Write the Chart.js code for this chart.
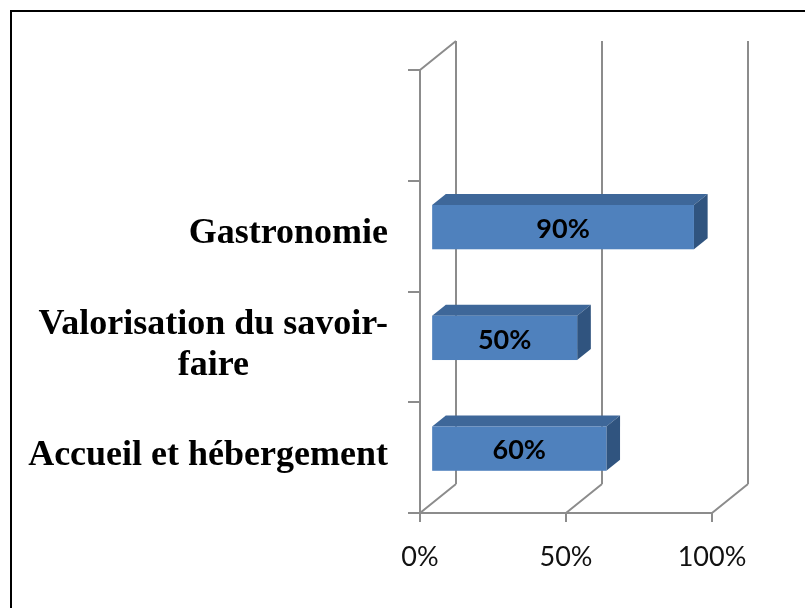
<!DOCTYPE html>
<html>
<head>
<meta charset="utf-8">
<script src="https://cdn.jsdelivr.net/npm/chart.js@4.4.0/dist/chart.umd.min.js"></script>
<style>
  html, body { margin: 0; padding: 0; background: #fff; }
  #wrap { position: relative; width: 805px; height: 608px; overflow: hidden; }
  #frame { position: absolute; left: 10px; top: 10px; width: 900px; height: 700px; border: 2px solid #000; }
  #box { position: absolute; left: 0; top: 0; width: 805px; height: 608px; }
</style>
</head>
<body>
<div id="wrap">
  <div id="frame"></div>
  <div id="box"><canvas id="chart"></canvas></div>
</div>
<script>
// data, bottom to top (the top slot is empty, like in the original)
const categories = [["Accueil et hébergement"], ["Valorisation du savoir-", "faire"], ["Gastronomie"], [""]];
const values = [0.6, 0.5, 0.9, null];
const valueLabels = ["60%", "50%", "90%", ""];
const xTicks = [0, 0.5, 1];
const xTickLabels = ["0%", "50%", "100%"];

const gridColor = "#8c8c8c";
const depth = { x: 36, y: -29 };      // full depth of the 3d box
const barFront = 0.31, barDepth = 0.38; // where the bar sits inside that depth

const walls3d = {
  id: "walls3d",
  beforeDatasetsDraw(chart) {
    const { ctx, chartArea: a, scales: { x } } = chart;
    ctx.save();
    ctx.strokeStyle = gridColor;
    ctx.lineWidth = 2;
    ctx.beginPath();
    xTicks.forEach(v => {
      const px = x.getPixelForValue(v);
      // back wall gridline
      ctx.moveTo(px + depth.x, a.top + depth.y);
      ctx.lineTo(px + depth.x, a.bottom + depth.y);
      // floor diagonal
      ctx.moveTo(px, a.bottom);
      ctx.lineTo(px + depth.x, a.bottom + depth.y);
    });
    // left wall top edge
    ctx.moveTo(a.left, a.top);
    ctx.lineTo(a.left + depth.x, a.top + depth.y);
    ctx.stroke();
    ctx.restore();
  },
  afterDatasetsDraw(chart) {
    const { ctx } = chart;
    const meta = chart.getDatasetMeta(0);
    const fx = depth.x * barFront, fy = depth.y * barFront;
    const bx = depth.x * barDepth, by = depth.y * barDepth;
    ctx.save();
    meta.data.forEach((el, i) => {
      if (values[i] == null) return;
      const x0 = el.base + fx, x1 = el.x + fx;
      const y0 = el.y - el.height / 2 + fy, y1 = el.y + el.height / 2 + fy;
      // top
      ctx.fillStyle = "#3e6799";
      ctx.beginPath();
      ctx.moveTo(x0, y0); ctx.lineTo(x1, y0); ctx.lineTo(x1 + bx, y0 + by); ctx.lineTo(x0 + bx, y0 + by);
      ctx.closePath(); ctx.fill();
      // side
      ctx.fillStyle = "#30547f";
      ctx.beginPath();
      ctx.moveTo(x1, y0); ctx.lineTo(x1 + bx, y0 + by); ctx.lineTo(x1 + bx, y1 + by); ctx.lineTo(x1, y1);
      ctx.closePath(); ctx.fill();
      // front
      ctx.fillStyle = "#4f81bd";
      ctx.fillRect(x0, y0, x1 - x0, y1 - y0);
      // value label
      ctx.fillStyle = "#000";
      ctx.font = "bold 27px Lato";
      ctx.textAlign = "center";
      ctx.textBaseline = "middle";
      ctx.fillText(valueLabels[i], (x0 + x1) / 2, (y0 + y1) / 2 + 2);
    });
    ctx.restore();
  },
  afterDraw(chart) {
    const { ctx, scales: { y } } = chart;
    ctx.save();
    ctx.font = "bold 36px 'Liberation Serif'";
    ctx.fillStyle = "#000";
    ctx.textAlign = "center";
    ctx.textBaseline = "middle";
    const right = 388, lh = 41;
    categories.forEach((lines, i) => {
      const w = Math.max(...lines.map(t => ctx.measureText(t).width));
      const cy = y.getPixelForValue(i) - 2;
      const start = cy - (lines.length - 1) * lh / 2;
      lines.forEach((t, k) => ctx.fillText(t, right - w / 2, start + k * lh));
    });
    ctx.restore();
  }
};

new Chart(document.getElementById("chart"), {
  type: "bar",
  data: {
    labels: categories,
    datasets: [{
      data: values,
      backgroundColor: "rgba(0,0,0,0)",
      categoryPercentage: 1,
      barPercentage: 0.4
    }]
  },
  options: {
    indexAxis: "y",
    responsive: true,
    maintainAspectRatio: false,
    animation: false,
    layout: { padding: { left: 380, right: 93, top: 70, bottom: 25 } },
    plugins: { legend: { display: false }, tooltip: { enabled: false } },
    scales: {
      x: {
        min: 0,
        max: 1,
        afterBuildTicks: s => { s.ticks = xTicks.map(v => ({ value: v })); },
        afterFit: s => { s.height = 70; },
        grid: { drawOnChartArea: false, drawTicks: true, tickLength: 9, color: gridColor, lineWidth: 2 },
        border: { color: gridColor, width: 2 },
        ticks: {
          padding: 19,
          color: "#111",
          font: { family: "Lato", size: 27 },
          callback: (v, i) => xTickLabels[i]
        }
      },
      y: {
        reverse: true,
        afterFit: s => { s.width = 40; },
        grid: { drawOnChartArea: false, drawTicks: true, tickLength: 12, color: gridColor, lineWidth: 2 },
        border: { color: gridColor, width: 2 },
        ticks: { display: false }
      }
    }
  },
  plugins: [walls3d]
});
</script>
</body>
</html>
